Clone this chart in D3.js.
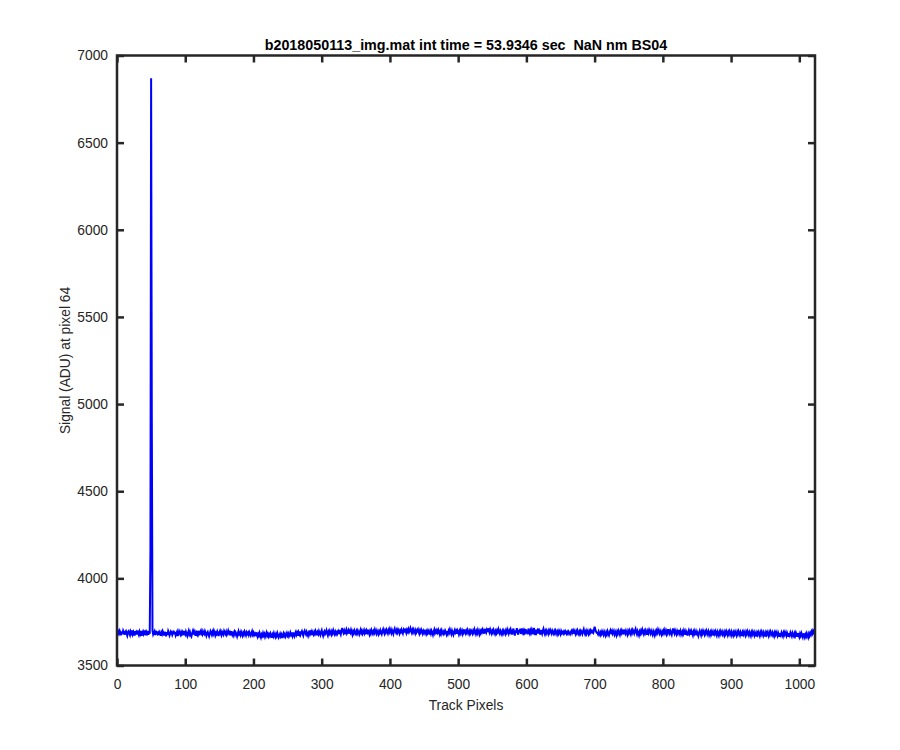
<!DOCTYPE html>
<html>
<head>
<meta charset="utf-8">
<script src="https://cdn.jsdelivr.net/npm/d3@7"></script>
<style>
  html, body { margin: 0; padding: 0; background: #ffffff; }
  svg { display: block; font-family: "Liberation Sans", Arial, Helvetica, sans-serif; }
</style>
</head>
<body>
<div id="chart"></div>
<script>
const titleText = "b2018050113_img.mat int time = 53.9346 sec  NaN nm BS04";
const xLabelText = "Track Pixels";
const yLabelText = "Signal (ADU) at pixel 64";
const xTicks = [0, 100, 200, 300, 400, 500, 600, 700, 800, 900, 1000];
const yTicks = [3500, 4000, 4500, 5000, 5500, 6000, 6500, 7000];
const xDomain = [0, 1023];
const yDomain = [3500, 7000];

// Signal per track pixel (index = track pixel 0..1023)
const signal = [
3668,3679,3694,3684,3699,3688,3673,3696,3681,3700,3690,3676,3693,3698,3682,3671,3692,3697,3684,3674,3695,3686,3701,3679,3690,3672,3697,3684,3692,3678,3700,3687,
3676,3694,3682,3699,3670,3689,3696,3679,3687,3701,3673,3693,3684,3698,3677,3689,3688,4160,6870,4930,3700,3679,3689,3697,3674,3699,3686,3681,3696,3675,3692,3684,
3671,3690,3680,3696,3685,3673,3694,3681,3668,3692,3677,3698,3687,3672,3682,3696,3690,3676,3687,3700,3679,3692,3673,3684,3694,3669,3681,3697,3686,3677,3692,3680,
3690,3674,3698,3684,3677,3694,3681,3670,3687,3699,3679,3690,3673,3666,3682,3695,3677,3697,3686,3671,3690,3681,3698,3677,3687,3674,3693,3701,3682,3676,3695,3684,
3679,3697,3687,3671,3684,3692,3678,3667,3682,3697,3687,3676,3693,3682,3700,3689,3673,3687,3680,3695,3684,3669,3690,3699,3682,3673,3693,3685,3677,3697,3687,3680,
3693,3676,3685,3700,3687,3673,3690,3682,3697,3679,3670,3687,3695,3678,3690,3682,3668,3684,3697,3680,3687,3675,3693,3682,3671,3687,3678,3695,3685,3673,3690,3681,
3688,3676,3692,3683,3672,3684,3696,3678,3688,3674,3682,3669,3690,3676,3665,3680,3671,3687,3674,3661,3678,3670,3686,3672,3681,3664,3675,3688,3671,3681,3667,3678,
3669,3684,3674,3660,3677,3667,3685,3672,3663,3679,3669,3686,3674,3661,3671,3682,3667,3677,3658,3672,3684,3670,3680,3665,3674,3686,3672,3682,3667,3677,3689,3675,
3681,3669,3689,3676,3667,3684,3693,3676,3686,3671,3691,3680,3695,3677,3688,3697,3683,3672,3690,3699,3685,3677,3693,3683,3671,3688,3701,3680,3690,3675,3695,3685,
3677,3692,3682,3698,3687,3673,3690,3680,3697,3685,3675,3692,3702,3682,3670,3690,3697,3680,3687,3701,3685,3673,3693,3683,3698,3687,3677,3695,3685,3702,3689,3679,
3694,3683,3700,3685,3696,3681,3704,3690,3678,3697,3715,3701,3687,3699,3680,3695,3706,3684,3692,3702,3683,3697,3688,3704,3690,3677,3695,3685,3700,3688,3681,3697,
3685,3700,3690,3679,3695,3706,3688,3698,3682,3692,3703,3685,3695,3680,3700,3690,3705,3688,3677,3696,3685,3703,3692,3682,3697,3687,3705,3692,3682,3700,3690,3679,
3696,3687,3702,3690,3680,3697,3708,3692,3682,3700,3690,3705,3695,3684,3702,3692,3709,3697,3686,3704,3692,3681,3700,3711,3695,3687,3702,3690,3706,3697,3684,3700,
3692,3706,3695,3684,3702,3690,3712,3700,3687,3704,3695,3708,3692,3702,3714,3697,3687,3704,3692,3706,3695,3684,3702,3690,3700,3708,3692,3682,3700,3690,3705,3695,
3683,3698,3688,3705,3691,3680,3696,3686,3701,3693,3678,3696,3683,3699,3689,3676,3694,3706,3686,3696,3681,3699,3689,3704,3692,3679,3696,3683,3701,3689,3681,3694,
3686,3701,3692,3679,3697,3683,3699,3689,3706,3694,3681,3699,3686,3676,3694,3704,3689,3697,3683,3701,3692,3679,3697,3686,3704,3694,3681,3699,3689,3706,3692,3683,
3699,3689,3704,3692,3681,3697,3686,3701,3694,3683,3699,3689,3707,3694,3681,3697,3686,3704,3692,3679,3697,3686,3701,3692,3706,3694,3683,3710,3699,3689,3704,3692,
3713,3701,3689,3706,3694,3683,3699,3689,3704,3692,3681,3697,3686,3701,3692,3708,3694,3683,3699,3689,3679,3697,3686,3701,3692,3681,3699,3689,3706,3694,3683,3701,
3692,3707,3694,3678,3699,3712,3689,3672,3701,3686,3714,3694,3677,3704,3689,3711,3681,3697,3713,3686,3674,3701,3692,3709,3683,3699,3679,3712,3694,3683,3701,3689,
3705,3692,3679,3716,3694,3674,3706,3689,3699,3683,3712,3697,3677,3704,3692,3681,3699,3710,3689,3679,3697,3686,3701,3692,3681,3699,3689,3704,3694,3683,3699,3689,
3681,3697,3686,3701,3692,3679,3694,3683,3699,3689,3679,3697,3686,3692,3683,3694,3686,3697,3689,3681,3692,3683,3694,3686,3679,3692,3699,3686,3697,3683,3701,3692,
3681,3697,3686,3701,3689,3679,3694,3683,3699,3692,3681,3697,3708,3689,3679,3694,3683,3701,3692,3681,3697,3686,3701,3692,3699,3690,3686,3704,3722,3708,3695,3688,
3688,3679,3694,3683,3674,3690,3681,3696,3686,3676,3694,3683,3672,3690,3679,3696,3683,3674,3692,3701,3681,3694,3683,3699,3688,3677,3696,3686,3674,3694,3683,3699,
3688,3677,3697,3686,3701,3690,3679,3706,3694,3683,3699,3688,3677,3697,3686,3701,3690,3679,3699,3688,3704,3694,3683,3699,3710,3690,3679,3697,3686,3674,3694,3683,
3699,3688,3706,3694,3681,3697,3686,3701,3690,3677,3697,3686,3704,3694,3683,3699,3688,3677,3697,3686,3674,3694,3683,3699,3688,3706,3694,3683,3699,3688,3677,3694,
3683,3699,3688,3704,3690,3679,3697,3686,3708,3694,3683,3699,3688,3677,3697,3712,3694,3683,3701,3690,3679,3697,3686,3704,3690,3679,3699,3688,3677,3694,3683,3701,
3690,3677,3697,3686,3672,3690,3701,3683,3694,3677,3697,3686,3674,3694,3683,3699,3688,3674,3694,3683,3670,3688,3699,3686,3674,3694,3683,3699,3688,3677,3694,3683,
3699,3688,3677,3697,3686,3674,3692,3681,3697,3686,3672,3692,3681,3697,3686,3674,3694,3683,3672,3692,3681,3697,3686,3677,3694,3683,3672,3692,3681,3697,3686,3674,
3692,3681,3697,3686,3674,3694,3683,3672,3690,3679,3694,3683,3672,3692,3681,3697,3686,3674,3692,3681,3669,3690,3679,3694,3683,3672,3692,3681,3697,3686,3674,3692,
3681,3670,3690,3679,3694,3683,3672,3690,3679,3667,3688,3677,3692,3681,3670,3690,3679,3694,3683,3672,3690,3679,3667,3688,3677,3692,3681,3670,3690,3679,3694,3683,
3674,3690,3679,3668,3688,3677,3692,3681,3670,3688,3677,3665,3686,3674,3690,3679,3668,3688,3677,3692,3681,3670,3688,3677,3665,3686,3674,3690,3679,3668,3686,3674,
3667,3684,3672,3688,3677,3665,3686,3674,3663,3681,3670,3686,3674,3663,3684,3672,3661,3677,3667,3684,3672,3661,3681,3670,3686,3677,3694,3683,3699,3690,3703,3712
];

const W = 900, H = 750;
const L = 117, R = 815, T = 55.5, B = 665.5;
const axisColor = "#262626";
const fontSize = "13.8px";

const svg = d3.select("#chart").append("svg")
  .attr("width", W).attr("height", H)
  .attr("viewBox", `0 0 ${W} ${H}`);

const x = d3.scaleLinear().domain(xDomain).range([L, R]);
const y = d3.scaleLinear().domain(yDomain).range([B, T]);

// data line
const line = d3.line().x((d, i) => x(i)).y(d => y(d));
svg.append("path")
  .datum(signal)
  .attr("fill", "none")
  .attr("stroke", "#0000ff")
  .attr("stroke-width", 2)
  .attr("stroke-linejoin", "miter")
  .attr("d", line);

const tickLen = 7;
function styleAxis(g) {
  g.select(".domain").remove();
  g.selectAll(".tick line").attr("stroke", axisColor).attr("stroke-width", 2.5);
  g.selectAll(".tick text").attr("fill", axisColor).style("font-size", fontSize)
    .style("font-family", '"Liberation Sans", Arial, sans-serif');
}

// bottom axis
svg.append("g").attr("transform", `translate(0,${B})`)
  .call(d3.axisBottom(x).tickValues(xTicks).tickSizeInner(-tickLen).tickSizeOuter(0).tickPadding(13.5).tickFormat(d3.format("d")))
  .call(styleAxis);
// top axis ticks
svg.append("g").attr("transform", `translate(0,${T})`)
  .call(d3.axisTop(x).tickValues(xTicks).tickSizeInner(-tickLen).tickSizeOuter(0).tickFormat(""))
  .call(styleAxis);
// left axis
svg.append("g").attr("transform", `translate(${L},0)`)
  .call(d3.axisLeft(y).tickValues(yTicks).tickSizeInner(-tickLen).tickSizeOuter(0).tickPadding(9).tickFormat(d3.format("d")))
  .call(styleAxis);
// right axis ticks
svg.append("g").attr("transform", `translate(${R},0)`)
  .call(d3.axisRight(y).tickValues(yTicks).tickSizeInner(-tickLen).tickSizeOuter(0).tickFormat(""))
  .call(styleAxis);

// box
svg.append("rect")
  .attr("x", L).attr("y", T).attr("width", R - L).attr("height", B - T)
  .attr("fill", "none").attr("stroke", axisColor).attr("stroke-width", 2.5);

// title
svg.append("text")
  .attr("x", (L + R) / 2).attr("y", 49.5)
  .attr("text-anchor", "middle")
  .attr("fill", "#000")
  .style("font-size", "14.3px").style("font-weight", "bold")
  .style("white-space", "pre")
  .attr("xml:space", "preserve")
  .text(titleText);

// x label
svg.append("text")
  .attr("x", (L + R) / 2).attr("y", 709.5)
  .attr("text-anchor", "middle")
  .attr("fill", axisColor)
  .style("font-size", fontSize)
  .text(xLabelText);

// y label
svg.append("text")
  .attr("transform", `translate(69.5,${(T + B) / 2}) rotate(-90)`)
  .attr("text-anchor", "middle")
  .attr("fill", axisColor)
  .style("font-size", fontSize)
  .text(yLabelText);
</script>
</body>
</html>
